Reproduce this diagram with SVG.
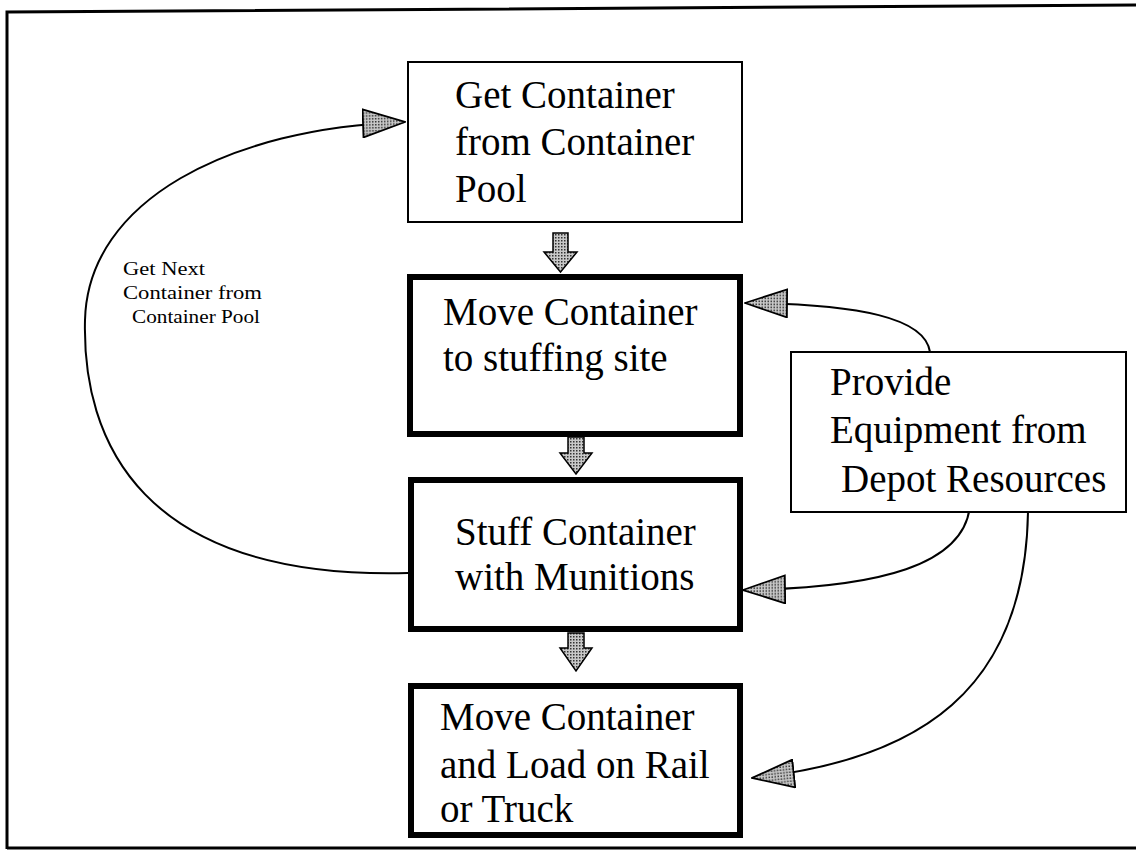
<svg xmlns="http://www.w3.org/2000/svg" width="1136" height="850" viewBox="0 0 1136 850">
<style>
.box{fill:#fff;stroke:#000}
.thin{stroke-width:2}
.thick{stroke-width:6}
.t{font-family:"Liberation Serif","Times New Roman",serif;font-size:39px;fill:#000}
.lbl{font-family:"Liberation Serif","Times New Roman",serif;font-size:18px;fill:#000}
.conn{fill:none;stroke:#000;stroke-width:2}
.blk{fill:url(#hatch);stroke:#000;stroke-width:1.5;stroke-linejoin:miter}
</style>
<defs>
<pattern id="hatch" patternUnits="userSpaceOnUse" width="3" height="3">
<rect width="3" height="3" fill="#c8c8c8"/>
<rect width="1.5" height="1.5" fill="#333"/>
</pattern>
<marker id="ah" markerUnits="userSpaceOnUse" viewBox="-1 -1 44 30" refX="42" refY="14" markerWidth="44" markerHeight="30" orient="auto">
<path d="M0,0 L42,14 L0,28 Z" fill="url(#hatch)" stroke="#000" stroke-width="1.8"/>
</marker>
</defs>
<g id="frame" fill="none" stroke="#000" stroke-width="3">
<path d="M7,849 L7,12 L1136,5"/>
<path d="M7,848 L1136,848"/>
</g>
<g id="connectors">
<path class="conn" d="M408,573 C140,580 82,440 85,320 C88,200 230,128 405,122" marker-end="url(#ah)"/>
<path class="conn" d="M930,352 C925,318 860,304 745,303" marker-end="url(#ah)"/>
<path class="conn" d="M970,505 C965,565 880,588 743,590" marker-end="url(#ah)"/>
<path class="conn" d="M1028,512 C1025,690 920,760 752,778" marker-end="url(#ah)"/>
<polygon class="blk" points="553,233 568,233 568,252 577,252 560.5,272 544,252 553,252"/>
<polygon class="blk" points="568,437 584,437 584,453 592,453 576,474 560,453 568,453"/>
<polygon class="blk" points="568,633 584,633 584,648 592,648 576,671 560,648 568,648"/>
</g>
<g id="n1">
<rect class="box thin" x="408" y="62" width="334" height="160"/>
<text class="t" x="455" y="108">Get Container</text>
<text class="t" x="455" y="155">from Container</text>
<text class="t" x="455" y="202">Pool</text>
</g>
<g id="n2">
<rect class="box thick" x="410" y="277" width="330" height="157"/>
<text class="t" x="443" y="325">Move Container</text>
<text class="t" x="443" y="371">to stuffing site</text>
</g>
<g id="n3">
<rect class="box thick" x="411" y="480" width="329" height="149"/>
<text class="t" x="455" y="545">Stuff Container</text>
<text class="t" x="455" y="590">with Munitions</text>
</g>
<g id="n4">
<rect class="box thick" x="411" y="686" width="329" height="149"/>
<text class="t" x="440" y="730">Move Container</text>
<text class="t" x="440" y="778">and Load on Rail</text>
<text class="t" x="440" y="822">or Truck</text>
</g>
<g id="n5">
<rect class="box thin" x="791" y="352" width="335" height="160"/>
<text class="t" x="830" y="395">Provide</text>
<text class="t" x="830" y="443">Equipment from</text>
<text class="t" x="841" y="492">Depot Resources</text>
</g>
<g id="label">
<text class="lbl" x="123" y="275" textLength="82" lengthAdjust="spacingAndGlyphs">Get Next</text>
<text class="lbl" x="123" y="299" textLength="139" lengthAdjust="spacingAndGlyphs">Container from</text>
<text class="lbl" x="132" y="323" textLength="128" lengthAdjust="spacingAndGlyphs">Container Pool</text>
</g>
</svg>
